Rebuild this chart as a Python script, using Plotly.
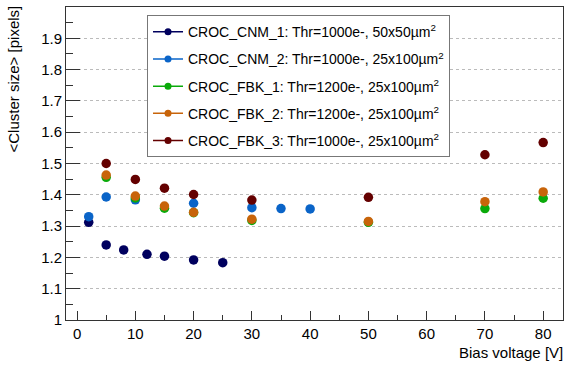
import plotly.graph_objects as go

# ---- data ----
cnm1_x = [2, 5, 8, 12, 15, 20, 25]
cnm1_y = [1.312, 1.240, 1.224, 1.210, 1.204, 1.192, 1.183]

cnm2_x = [2, 5, 10, 20, 30, 35, 40]
cnm2_y = [1.330, 1.393, 1.384, 1.373, 1.359, 1.356, 1.355]

fbk1_x = [5, 10, 15, 20, 30, 50, 70, 80]
fbk1_y = [1.456, 1.390, 1.357, 1.343, 1.318, 1.312, 1.356, 1.389]

fbk2_x = [5, 10, 15, 20, 30, 50, 70, 80]
fbk2_y = [1.463, 1.396, 1.364, 1.344, 1.322, 1.315, 1.378, 1.409]

fbk3_x = [5, 10, 15, 20, 30, 50, 70, 80]
fbk3_y = [1.500, 1.449, 1.421, 1.401, 1.383, 1.392, 1.528, 1.567]

names = [
    "CROC_CNM_1: Thr=1000e-, 50x50µm<sup>2</sup>",
    "CROC_CNM_2: Thr=1000e-, 25x100µm<sup>2</sup>",
    "CROC_FBK_1: Thr=1200e-, 25x100µm<sup>2</sup>",
    "CROC_FBK_2: Thr=1200e-, 25x100µm<sup>2</sup>",
    "CROC_FBK_3: Thr=1000e-, 25x100µm<sup>2</sup>",
]
colors = ["#00005e", "#0a64c8", "#0aaa0a", "#c8640a", "#640000"]
series = [(cnm1_x, cnm1_y), (cnm2_x, cnm2_y), (fbk1_x, fbk1_y),
          (fbk2_x, fbk2_y), (fbk3_x, fbk3_y)]

FONT = "Liberation Sans, Arial, sans-serif"

fig = go.Figure()
for (xs, ys), c, n in zip(series, colors, names):
    fig.add_trace(go.Scatter(x=xs, y=ys, mode="markers", showlegend=False,
                             marker=dict(color=c, size=9.5, line=dict(width=0))))
for i, (c, n) in enumerate(zip(colors, names)):
    fig.add_trace(go.Scatter(x=[None], y=[None], mode="lines+markers", name=n,
                             legendgroup=f"g{i}",
                             line=dict(color=c, width=1.5),
                             marker=dict(color=c, size=7)))

fig.update_layout(
    width=566, height=373,
    margin=dict(l=66, r=3, t=7, b=53),
    paper_bgcolor="white", plot_bgcolor="white",
    font=dict(family=FONT, size=14, color="black"),
    legend=dict(x=0.163, y=0.974, xanchor="left", yanchor="top",
                bgcolor="white", bordercolor="#777777", borderwidth=1,
                font=dict(family=FONT, size=14, color="black"),
                traceorder="grouped", tracegroupgap=6, itemwidth=30),
    xaxis=dict(range=[-1.9, 83.4], tickvals=[0, 10, 20, 30, 40, 50, 60, 70, 80],
               ticks="inside", ticklen=9, tickcolor="#333", tickwidth=1,
               minor=dict(dtick=5, ticks="inside", ticklen=5, tickcolor="#333"),
               showgrid=False, zeroline=False, showline=True, linecolor="#333",
               linewidth=1, mirror=True, tickfont=dict(size=15)),
    yaxis=dict(range=[1, 2], tickvals=[1, 1.1, 1.2, 1.3, 1.4, 1.5, 1.6, 1.7, 1.8, 1.9, 2],
               ticktext=["1", "1.1", "1.2", "1.3", "1.4", "1.5", "1.6", "1.7", "1.8", "1.9", "2"],
               ticks="inside", ticklen=14, tickcolor="#333", tickwidth=1,
               minor=dict(dtick=0.05, ticks="inside", ticklen=7, tickcolor="#333"),
               showgrid=True, gridcolor="#bbbbbb", griddash="dot", gridwidth=1,
               zeroline=False, showline=True, linecolor="#333", linewidth=1,
               mirror=True, tickfont=dict(size=15)),
    annotations=[
        dict(text="Bias voltage [V]", xref="paper", yref="paper", x=1, y=0,
             xanchor="right", yanchor="top", yshift=-22, xshift=2, showarrow=False,
             font=dict(size=15)),
        dict(text="&lt;Cluster size&gt; [pixels]", xref="paper", yref="paper",
             x=0, y=1, xanchor="center", yanchor="top", xshift=-53, yshift=3,
             textangle=-90, showarrow=False, font=dict(size=15)),
    ],
)

fig.write_html("out.html")
